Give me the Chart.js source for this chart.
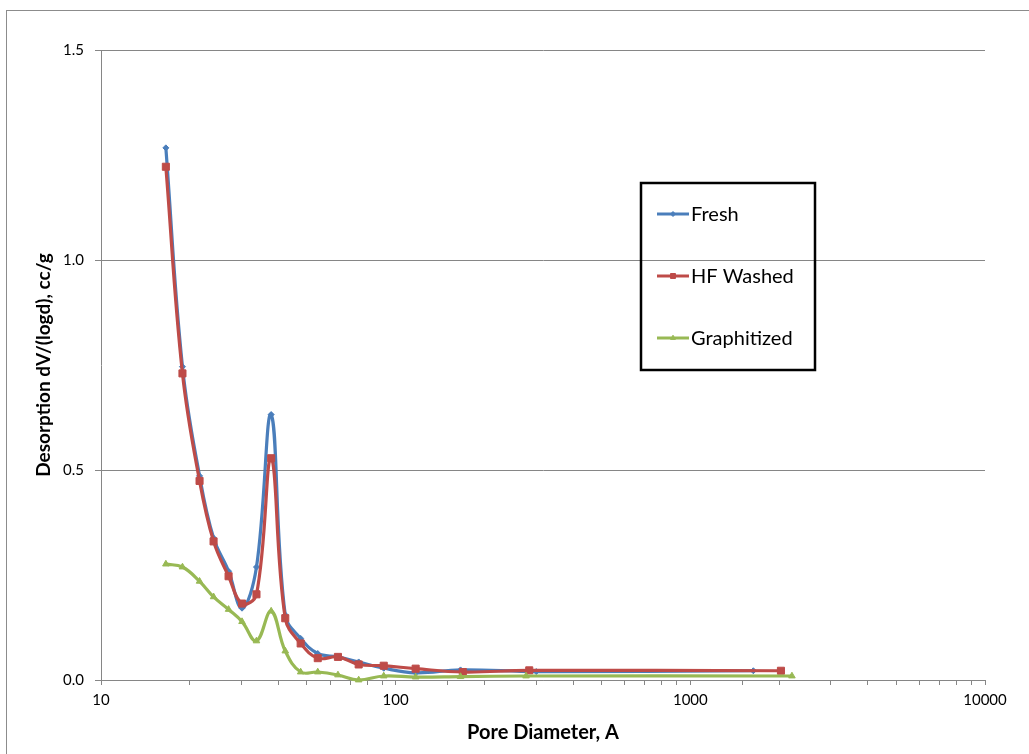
<!DOCTYPE html>
<html>
<head>
<meta charset="utf-8">
<script src="https://cdn.jsdelivr.net/npm/chart.js@4/dist/chart.umd.min.js"></script>
<style>
  html, body { margin: 0; padding: 0; background: #ffffff; overflow: hidden; width: 1029px; height: 754px; }
  #frame { position: absolute; left: 6px; top: 10px; width: 1100px; height: 800px; border: 1px solid #8c8c8c; }
  #wrap { position: absolute; left: 0; top: 0; width: 1029px; height: 754px; }
</style>
</head>
<body>
<div id="frame"></div>
<div id="wrap"><canvas id="chart" width="1029" height="754"></canvas></div>
<script>
// Series names
const seriesNames = ['Fresh', 'HF Washed', 'Graphitized'];

// Pore diameter (Å) and desorption dV/(logd) (cc/g) for each sample
const freshDiameter = [16.6, 18.9, 21.6, 24.1, 27.1, 30.1, 33.7, 37.8, 42.2, 47.6, 54.4, 63.7, 74.9, 91.1, 116.9, 166, 300, 1636];
const freshValues   = [1.267, 0.746, 0.486, 0.338, 0.259, 0.171, 0.269, 0.632, 0.155, 0.099, 0.063, 0.055, 0.043, 0.028, 0.017, 0.024, 0.020, 0.022];

const washedDiameter = [16.6, 18.9, 21.6, 24.1, 27.1, 30.1, 33.7, 37.8, 42.2, 47.6, 54.4, 63.7, 74.9, 91.1, 116.9, 169, 284, 2030];
const washedValues   = [1.222, 0.730, 0.474, 0.330, 0.247, 0.182, 0.204, 0.528, 0.147, 0.087, 0.052, 0.055, 0.037, 0.034, 0.027, 0.019, 0.023, 0.022];

const graphDiameter = [16.6, 18.9, 21.6, 24.1, 27.1, 30.1, 33.7, 37.8, 42.2, 47.6, 54.4, 63.7, 74.9, 91.1, 116.9, 166, 277, 2212];
const graphValues   = [0.276, 0.269, 0.235, 0.198, 0.168, 0.139, 0.093, 0.164, 0.069, 0.019, 0.019, 0.012, 0.000, 0.0095, 0.007, 0.008, 0.0095, 0.0095];

// Axis ticks
const xMajorTicks = [10, 100, 1000, 10000];
const yTicks = [0, 0.5, 1.0, 1.5];

const toPoints = (xs, ys) => xs.map((x, i) => ({ x: x, y: ys[i] }));

const colors = ['#4A7EBB', '#BE4B48', '#98B954'];
const gridColor = '#868686';

// Boxed legend drawn inside the plot area
const boxLegend = {
  id: 'boxLegend',
  afterDraw(chart) {
    const ctx = chart.ctx;
    const box = { x: 641, y: 183, w: 174, h: 187 };
    ctx.save();
    ctx.lineWidth = 2.5;
    ctx.strokeStyle = '#000000';
    ctx.strokeRect(box.x, box.y, box.w, box.h);
    ctx.font = '20px Lato';
    ctx.fillStyle = '#000000';
    ctx.textBaseline = 'middle';
    chart.data.datasets.forEach((ds, i) => {
      const y = 214 + i * 62;
      ctx.strokeStyle = ds.borderColor;
      ctx.lineWidth = 3;
      ctx.beginPath();
      ctx.moveTo(657, y);
      ctx.lineTo(689, y);
      ctx.stroke();
      ctx.fillStyle = ds.borderColor;
      ctx.strokeStyle = ds.borderColor;
      ctx.lineWidth = 1;
      Chart.helpers.drawPoint(ctx, { pointStyle: ds.pointStyle, radius: ds.legendRadius, rotation: 0, borderWidth: 1 }, 673, y);
      ctx.fillStyle = '#000000';
      ctx.fillText(ds.label, 691, y + 1);
    });
    ctx.restore();
  }
};

new Chart(document.getElementById('chart'), {
  type: 'line',
  data: {
    datasets: [
      {
        label: seriesNames[0],
        data: toPoints(freshDiameter, freshValues),
        borderColor: colors[0], backgroundColor: colors[0],
        pointStyle: 'rectRot', pointRadius: 3, legendRadius: 2.5,
        order: 3
      },
      {
        label: seriesNames[1],
        data: toPoints(washedDiameter, washedValues),
        borderColor: colors[1], backgroundColor: colors[1],
        pointStyle: 'rect', pointRadius: 5, legendRadius: 3.5,
        order: 2
      },
      {
        label: seriesNames[2],
        data: toPoints(graphDiameter, graphValues),
        borderColor: colors[2], backgroundColor: colors[2],
        pointStyle: 'triangle', pointRadius: 3.8, legendRadius: 2.8,
        order: 1
      }
    ]
  },
  options: {
    responsive: false,
    animation: false,
    events: [],
    datasets: {
      line: {
        borderWidth: 3.2,
        tension: 0.4,
        fill: false,
        pointBorderWidth: 1,
        clip: false
      }
    },
    layout: { padding: { left: 0, top: 50, right: 44, bottom: 0 } },
    plugins: {
      legend: { display: false },
      tooltip: { enabled: false }
    },
    scales: {
      x: {
        type: 'logarithmic',
        position: 'bottom',
        min: xMajorTicks[0],
        max: xMajorTicks[xMajorTicks.length - 1],
        afterFit: s => { s.height = 74; },
        grid: { drawOnChartArea: false, drawTicks: true, tickLength: 5, color: gridColor },
        border: { display: true, color: gridColor, width: 1 },
        ticks: {
          autoSkip: false,
          maxRotation: 0,
          padding: 6,
          color: '#000000',
          font: { family: 'Lato', size: 15 },
          callback: (v) => xMajorTicks.includes(Math.round(v)) && Math.abs(v - Math.round(v)) < 1e-6 ? String(Math.round(v)) : ''
        },
        title: {
          display: true,
          text: 'Pore Diameter, A',
          color: '#000000',
          font: { family: 'Lato', size: 20, weight: 'bold' },
          padding: { top: 0, bottom: 9 }
        }
      },
      y: {
        min: yTicks[0],
        max: yTicks[yTicks.length - 1],
        afterFit: s => { s.width = 101; },
        afterBuildTicks: s => { s.ticks = yTicks.map(v => ({ value: v })); },
        grid: { color: gridColor, tickLength: 6, drawTicks: true },
        border: { display: true, color: gridColor, width: 1 },
        ticks: {
          padding: 11,
          color: '#000000',
          font: { family: 'Lato', size: 15 },
          callback: (v) => Number(v).toFixed(1)
        },
        title: {
          display: true,
          text: 'Desorption dV/(logd), cc/g',
          color: '#000000',
          font: { family: 'Lato', size: 19, weight: 'bold' },
          padding: { top: 32, bottom: 0 }
        }
      }
    }
  },
  plugins: [boxLegend]
});
</script>
</body>
</html>
